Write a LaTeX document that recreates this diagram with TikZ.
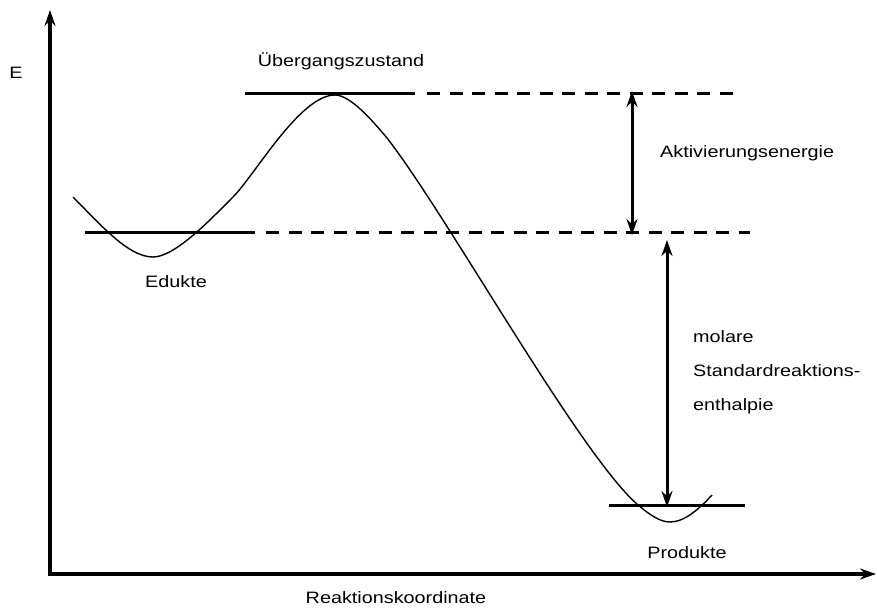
\documentclass[tikz,border=0pt]{standalone}
\usepackage{fontspec}
\setmainfont{Liberation Sans}[FakeStretch=1.2]
\usetikzlibrary{arrows.meta,calc,positioning}

\begin{document}
\begin{tikzpicture}[x=1pt,y=-1pt,>={Stealth[length=16pt,width=11pt]},
    font=\fontsize{16.5}{20}\selectfont,
    level/.style={line width=3pt},
    dashlevel/.style={line width=3pt,dash pattern=on 13pt off 9.5pt},
    axis/.style={line width=3.5pt,->},
    energy/.style={line width=3pt,<->},
    lbl/.style={inner sep=0pt,anchor=base}]

    \useasboundingbox (0,0) rectangle (877,607);

    % axes
    \coordinate (origin) at (50,574);
    \coordinate (y-end) at (50,10);
    \coordinate (x-end) at (876,574);
    \draw[axis] ($(origin)+(0,1.75)$) -- (y-end);
    \draw[axis] (origin) -- (x-end);
    \node[lbl] (E) at (16,79) {E};
    \node[lbl] (reak) at (396,603) {Reaktionskoordinate};

    % levels
    \coordinate (ts-l) at (245,94);
    \coordinate (ts-r) at (415,94);
    \coordinate (ts-d) at (427,94);
    \coordinate (ts-e) at (735,94);
    \coordinate (ed-l) at (85,232);
    \coordinate (ed-r) at (255,232);
    \coordinate (ed-d) at (266,232);
    \coordinate (ed-e) at (750,232);
    \coordinate (pr-l) at (609,505);
    \coordinate (pr-r) at (745,505);

    \draw[level] (ts-l) -- (ts-r);
    \draw[dashlevel] (ts-d) -- (ts-e);
    \draw[level] (ed-l) -- (ed-r);
    \draw[dashlevel] (ed-d) -- (ed-e);
    \draw[level] (pr-l) -- (pr-r);

    % energy curve
    \draw[line width=1.4pt] (73,197)
        .. controls (100,224) and (128,257) .. (153,257)
        .. controls (175,257) and (210,220) .. (233,197)
        .. controls (255,175) and (300,95) .. (335,95)
        .. controls (350,95) and (372,120) .. (387,138)
        .. controls (447,215) and (580,455) .. (638,505)
        .. controls (650,515) and (660,522) .. (670,522)
        .. controls (685,522) and (700,508) .. (712,495);

    \node[lbl] (ts) at (341,67) {Übergangszustand};
    \node[lbl] (edukte) at (176,287) {Edukte};
    \node[lbl] (produkte) at (687,558) {Produkte};

    % arrows
    \coordinate (act-top) at (632,91);
    \coordinate (act-bot) at (632,235);
    \coordinate (dh-top) at (667,240);
    \coordinate (dh-bot) at (667,507);
    \path[energy] (act-top) edge (act-bot);
    \path[energy] (dh-top) edge (dh-bot);

    \node[lbl,anchor=base west] (akt) at (660,157) {Aktivierungsenergie};
    \node[lbl,anchor=base west] (mol) at (693,342) {molare};
    \node[lbl,anchor=base west] (std) at (693,376) {Standardreaktions-};
    \node[lbl,anchor=base west] (enth) at (693,410) {enthalpie};

\end{tikzpicture}
\end{document}
